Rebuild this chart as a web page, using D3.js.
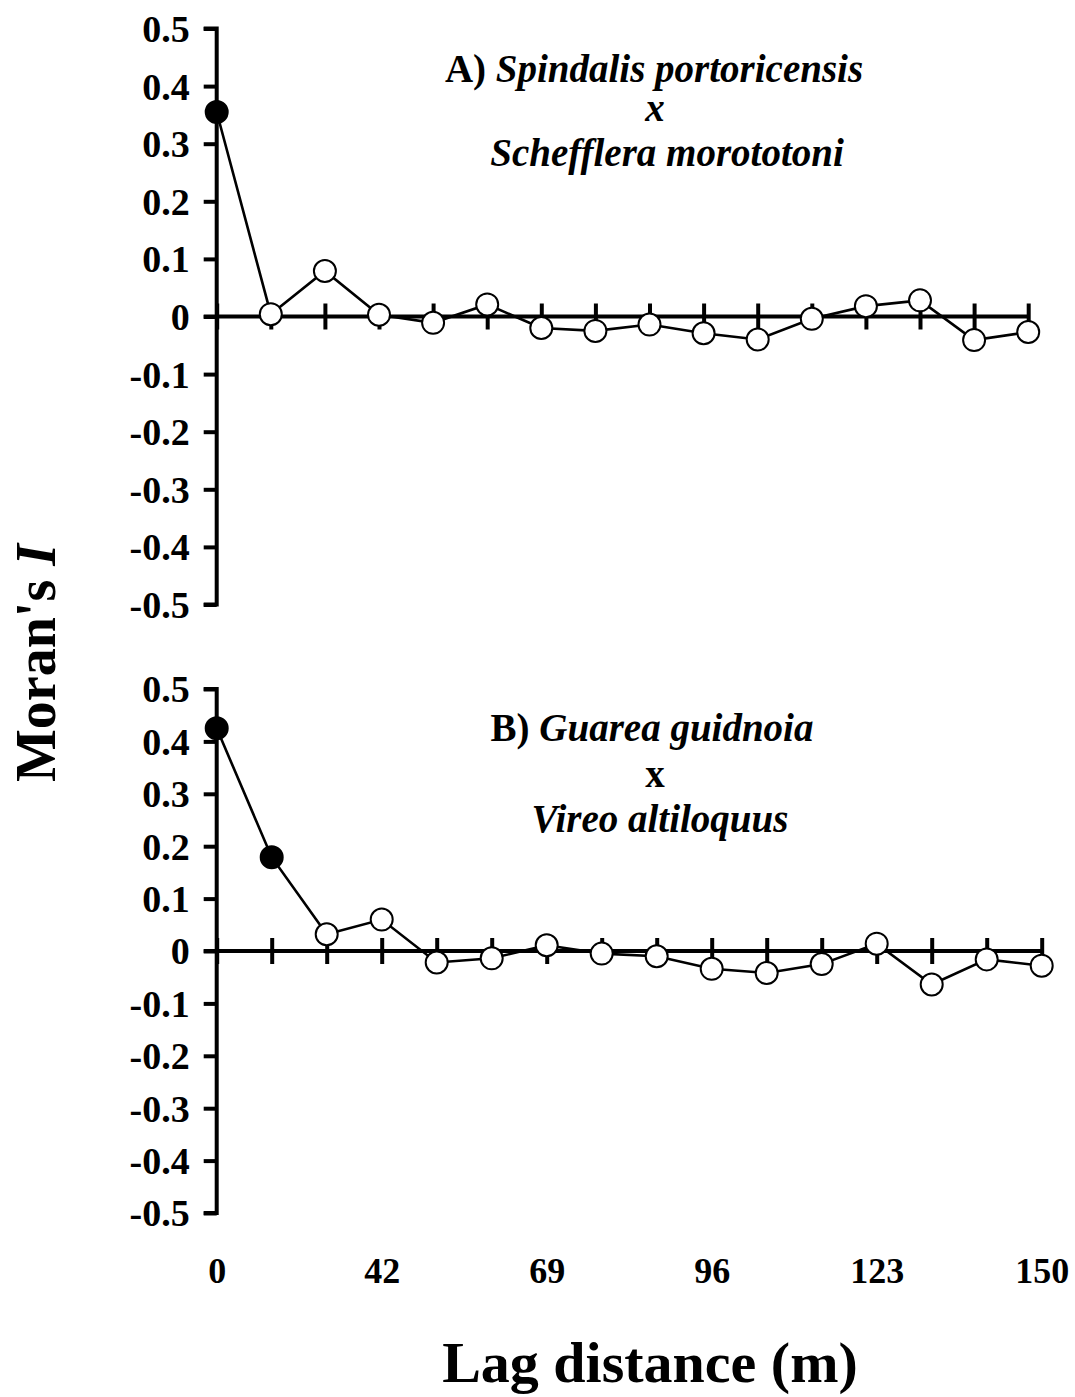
<!DOCTYPE html>
<html>
<head>
<meta charset="utf-8">
<script src="https://cdn.jsdelivr.net/npm/d3@7"></script>
<style>
  body { margin: 0; background: #fff; }
  text { font-family: "Liberation Serif", "Times New Roman", serif; font-weight: bold; fill: #000; }
</style>
</head>
<body>
<script>
// lag distance classes (m); only every third one is labelled
const lagDistance = [0, 14, 28, 42, 51, 60, 69, 78, 87, 96, 105, 114, 123, 132, 141, 150]
const yTicks = [0.5, 0.4, 0.3, 0.2, 0.1, 0, -0.1, -0.2, -0.3, -0.4, -0.5]

// Moran's I, panel A (Spindalis x Schefflera)
const moranA = [0.355, 0.004, 0.079, 0.003, -0.011, 0.021, -0.020, -0.025, -0.014, -0.029, -0.040, -0.004, 0.018, 0.028, -0.041, -0.027]
const signifA = [true, false, false, false, false, false, false, false, false, false, false, false, false, false, false, false]

// Moran's I, panel B (Guarea x Vireo)
const moranB = [0.425, 0.179, 0.032, 0.060, -0.022, -0.014, 0.011, -0.005, -0.010, -0.034, -0.042, -0.025, 0.014, -0.064, -0.016, -0.028]
const signifB = [true, true, false, false, false, false, false, false, false, false, false, false, false, false, false, false]

const titleA = [[{t: 'A) ', it: false}, {t: 'Spindalis portoricensis', it: true}], [{t: 'x', it: true}], [{t: 'Schefflera morototoni', it: true}]]
const titleB = [[{t: 'B) ', it: false}, {t: 'Guarea guidnoia', it: true}], [{t: 'x', it: false}], [{t: 'Vireo altiloquus', it: true}]]

const W = 1075, H = 1397

const svg = d3.select('body').append('svg')
  .attr('width', W)
  .attr('height', H)

// tick text with a plain hyphen for negatives
const fmtY = d => d === 0 ? '0' : d3.format('.1f')(d).replace('\u2212', '-')

//draw one panel
const drawPanel = function(opt) {
  const x = d3.scalePoint()
    .domain(lagDistance)
    .range([opt.x0, opt.x1])

  const y = d3.scaleLinear()
    .domain([-0.5, 0.5])
    .range([opt.yBot, opt.yTop])

  const g = svg.append('g')

  // y axis
  const yAxis = g.append('g')
    .attr('transform', `translate(${opt.x0},0)`)
    .call(d3.axisLeft(y).tickValues(yTicks).tickSize(13).tickPadding(14).tickFormat(fmtY))
  yAxis.select('.domain').attr('stroke', '#000').attr('stroke-width', 4)
    .attr('d', `M-13,${y(0.5)}H0V${y(-0.5)}H-13`)
  yAxis.selectAll('.tick line').attr('stroke', '#000').attr('stroke-width', 4)
  yAxis.selectAll('.tick text').style('font-size', '38px').attr('dy', '0.34em')

  // x axis through zero, ticks crossing
  const xAxis = g.append('g')
    .attr('transform', `translate(0,${y(0)})`)
    .call(d3.axisBottom(x).tickSize(13).tickFormat(''))
  xAxis.select('.domain').attr('stroke', '#000').attr('stroke-width', 4)
    .attr('d', `M${opt.x0 - 13},0H${opt.x1}`)
  xAxis.selectAll('.tick line').attr('stroke', '#000').attr('stroke-width', 4)
    .attr('y1', -13).attr('y2', 13)

  // category labels at the bottom
  if (opt.labels) {
    const lab = g.append('g')
      .attr('transform', `translate(0,${opt.yBot})`)
      .call(d3.axisBottom(x).tickSize(0).tickPadding(44)
        .tickFormat((d, i) => i % 3 === 0 ? d : ''))
    lab.select('.domain').remove()
    lab.selectAll('.tick text').style('font-size', '36px')
  }

  // series
  const pts = opt.values.map((v, i) => ({lag: lagDistance[i], v: v, sig: opt.sig[i]}))
  g.append('path')
    .datum(pts)
    .attr('fill', 'none')
    .attr('stroke', '#000')
    .attr('stroke-width', 2.6)
    .attr('d', d3.line().x(d => x(d.lag)).y(d => y(d.v)))

  g.selectAll('circle')
    .data(pts)
    .enter()
    .append('circle')
    .attr('cx', d => x(d.lag))
    .attr('cy', d => y(d.v))
    .attr('r', 11)
    .attr('fill', d => d.sig ? '#000' : '#fff')
    .attr('stroke', '#000')
    .attr('stroke-width', 2)

  // panel title
  const t = g.append('text')
    .attr('text-anchor', 'middle')
    .style('font-size', '39px')
  opt.title.forEach((line, li) => {
    line.forEach((part, pi) => {
      const s = t.append('tspan')
        .text(part.t)
        .style('font-style', part.it ? 'italic' : 'normal')
      if (pi === 0) s.attr('x', opt.titleX[li]).attr('y', opt.titleY[li])
    })
  })
}

drawPanel({x0: 216.7, x1: 1028.2, yTop: 28.5, yBot: 604.5, values: moranA, sig: signifA,
  title: titleA, titleX: [654, 655, 667], titleY: [82, 121, 166], labels: false})
drawPanel({x0: 216.7, x1: 1041.7, yTop: 689, yBot: 1213, values: moranB, sig: signifB,
  title: titleB, titleX: [652, 655, 660], titleY: [741, 787, 832], labels: true})

// axis titles
svg.append('text')
  .attr('transform', 'translate(55,663) rotate(-90)')
  .attr('text-anchor', 'middle')
  .style('font-size', '56px')
  .html("Moran's <tspan font-style='italic'>I</tspan>")

svg.append('text')
  .attr('x', 650)
  .attr('y', 1382)
  .attr('text-anchor', 'middle')
  .style('font-size', '58px')
  .text('Lag distance (m)')
</script>
</body>
</html>
